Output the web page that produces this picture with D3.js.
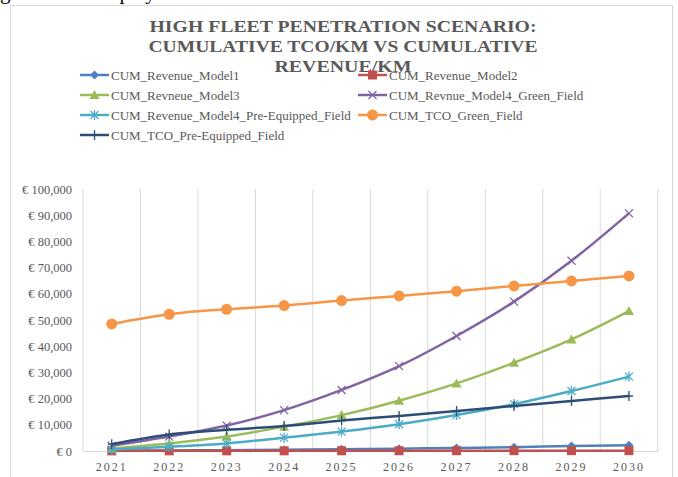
<!DOCTYPE html>
<html>
<head>
<meta charset="utf-8">
<script src="https://cdn.jsdelivr.net/npm/d3@7"></script>
<style>
  body { margin: 0; background: #fff; }
  svg { display: block; }
</style>
</head>
<body>
<div id="chart"></div>
<script>
// chart values
var years = ["2021", "2022", "2023", "2024", "2025", "2026", "2027", "2028", "2029", "2030"]
var revenueModel1 = [100, 200, 300, 450, 650, 900, 1150, 1450, 1900, 2200]
var revenueModel2 = [50, 60, 70, 80, 90, 100, 110, 120, 130, 140]
var revenueModel3 = [1000, 2900, 5500, 9300, 13700, 19200, 25800, 33700, 42600, 53400]
var revenueModel4Green = [2000, 5500, 9700, 15600, 23300, 32400, 43900, 57000, 72600, 90700]
var revenueModel4Pre = [600, 1600, 2900, 5100, 7400, 10200, 13700, 17900, 22900, 28400]
var tcoGreen = [48500, 52200, 54100, 55500, 57400, 59200, 61000, 63000, 64900, 66800]
var tcoPre = [2600, 6300, 8100, 9500, 11600, 13400, 15300, 17200, 19100, 21000]
var yTicks = [0, 10000, 20000, 30000, 40000, 50000, 60000, 70000, 80000, 90000, 100000]
var titleLines = ["HIGH FLEET PENETRATION SCENARIO:", "CUMULATIVE TCO/KM VS CUMULATIVE", "REVENUE/KM"]

var series = [
    { name: "CUM_Revenue_Model1", values: revenueModel1, color: "#4F81BD", marker: "diamond" },
    { name: "CUM_Revenue_Model2", values: revenueModel2, color: "#C0504D", marker: "square" },
    { name: "CUM_Revneue_Model3", values: revenueModel3, color: "#9BBB59", marker: "triangle" },
    { name: "CUM_Revnue_Model4_Green_Field", values: revenueModel4Green, color: "#8064A2", marker: "x" },
    { name: "CUM_Revenue_Model4_Pre-Equipped_Field", values: revenueModel4Pre, color: "#4BACC6", marker: "star" },
    { name: "CUM_TCO_Green_Field", values: tcoGreen, color: "#F79646", marker: "circle" },
    { name: "CUM_TCO_Pre-Equipped_Field", values: tcoPre, color: "#2C4D75", marker: "plus" }
]

var width = 678, height = 477
var svg = d3.select("#chart").append("svg")
    .attr("width", width)
    .attr("height", height)

// bit of document text cut off above the chart
svg.append("text")
    .attr("x", 0)
    .attr("y", -1)
    .style("font-family", "'Liberation Serif', serif")
    .style("font-size", "21px")
    .attr("fill", "#000")
    .text("g the same     display as the")

// chart frame
svg.append("rect")
    .attr("x", 10.5).attr("y", 5.5)
    .attr("width", 662).attr("height", 480)
    .attr("fill", "none")
    .attr("stroke", "#d9d9d9")

// title
svg.selectAll(".title")
    .data(titleLines)
    .enter()
    .append("text")
    .attr("class", "title")
    .attr("x", 343)
    .attr("y", function (d, i) { return 32 + i * 20 })
    .attr("text-anchor", "middle")
    .attr("textLength", function (d, i) { return [387, 389, 137][i] })
    .attr("lengthAdjust", "spacingAndGlyphs")
    .style("font-family", "'Liberation Serif', serif")
    .style("font-weight", "bold")
    .style("font-size", "17px")
    .attr("fill", "#595959")
    .text(function (d) { return d })

var x = d3.scaleBand().domain(years).range([83, 657.7])
var y = d3.scaleLinear().domain([0, 100000]).range([451, 189])

// vertical gridlines at category boundaries
var bounds = years.map(function (d) { return x(d) }).concat([x.range()[1]])
svg.selectAll(".grid")
    .data(bounds)
    .enter()
    .append("line")
    .attr("x1", function (d) { return d }).attr("x2", function (d) { return d })
    .attr("y1", y(100000)).attr("y2", y(0))
    .attr("stroke", "#d9d9d9")
    .attr("stroke-width", 1)

// x axis
var xAxis = svg.append("g")
    .attr("transform", "translate(0," + y(0) + ")")
    .call(d3.axisBottom(x).tickSize(0).tickPadding(11))
xAxis.select(".domain").attr("stroke", "#d9d9d9")
xAxis.selectAll("text")
    .style("font-family", "'Liberation Serif', serif")
    .style("font-size", "12px")
    .style("letter-spacing", "2px")
    .attr("fill", "#595959")

// y axis
var yAxis = svg.append("g")
    .attr("transform", "translate(83,0)")
    .call(d3.axisLeft(y).tickValues(yTicks).tickSize(0).tickPadding(11)
        .tickFormat(function (d) { return "€ " + d3.format(",")(d) }))
yAxis.select(".domain").remove()
yAxis.selectAll("text")
    .style("font-family", "'Liberation Serif', serif")
    .style("font-size", "12.5px")
    .attr("fill", "#595959")

function drawMarker(g, type, color) {
    if (type == "diamond") {
        g.append("path").attr("d", "M0,-4.5L4.5,0L0,4.5L-4.5,0Z").attr("fill", color)
    }
    else if (type == "square") {
        g.append("rect").attr("x", -4.5).attr("y", -4.5).attr("width", 9).attr("height", 9).attr("fill", color)
    }
    else if (type == "triangle") {
        g.append("path").attr("d", "M0,-5L5,4L-5,4Z").attr("fill", color)
    }
    else if (type == "circle") {
        g.append("circle").attr("r", 5.5).attr("fill", color)
    }
    else if (type == "x") {
        g.append("path").attr("d", "M-4,-4L4,4M-4,4L4,-4").attr("stroke", color).attr("stroke-width", 1.3)
    }
    else if (type == "star") {
        g.append("path").attr("d", "M-4,-4L4,4M-4,4L4,-4M0,-5L0,5").attr("stroke", color).attr("stroke-width", 1.3)
    }
    else if (type == "plus") {
        g.append("path").attr("d", "M-4,0L4,0M0,-5L0,5").attr("stroke", color).attr("stroke-width", 1.3)
    }
}

var line = d3.line()
    .x(function (d, i) { return x(years[i]) + x.bandwidth() / 2 })
    .y(function (d) { return y(d) })
    .curve(d3.curveMonotoneX)

series.forEach(function (s) {
    svg.append("path")
        .datum(s.values)
        .attr("d", line)
        .attr("fill", "none")
        .attr("stroke", s.color)
        .attr("stroke-width", 2.5)
    s.values.forEach(function (v, i) {
        var g = svg.append("g")
            .attr("transform", "translate(" + (x(years[i]) + x.bandwidth() / 2) + "," + y(v) + ")")
        drawMarker(g, s.marker, s.color)
    })
})

// legend, two columns
var legend = svg.selectAll(".legend")
    .data(series)
    .enter()
    .append("g")
    .attr("class", "legend")
    .attr("transform", function (d, i) {
        var col = i % 2
        var row = Math.floor(i / 2)
        return "translate(" + (col == 0 ? 80 : 358) + "," + (75 + row * 20) + ")"
    })
legend.append("line")
    .attr("x1", 0).attr("x2", 29)
    .attr("stroke", function (d) { return d.color })
    .attr("stroke-width", 2.5)
legend.each(function (d) {
    var g = d3.select(this).append("g").attr("transform", "translate(14.5,0)")
    drawMarker(g, d.marker, d.color)
})
legend.append("text")
    .attr("x", 31)
    .attr("y", 4.5)
    .style("font-family", "'Liberation Serif', serif")
    .style("font-size", "13px")
    .attr("fill", "#595959")
    .text(function (d) { return d.name })
</script>
</body>
</html>
